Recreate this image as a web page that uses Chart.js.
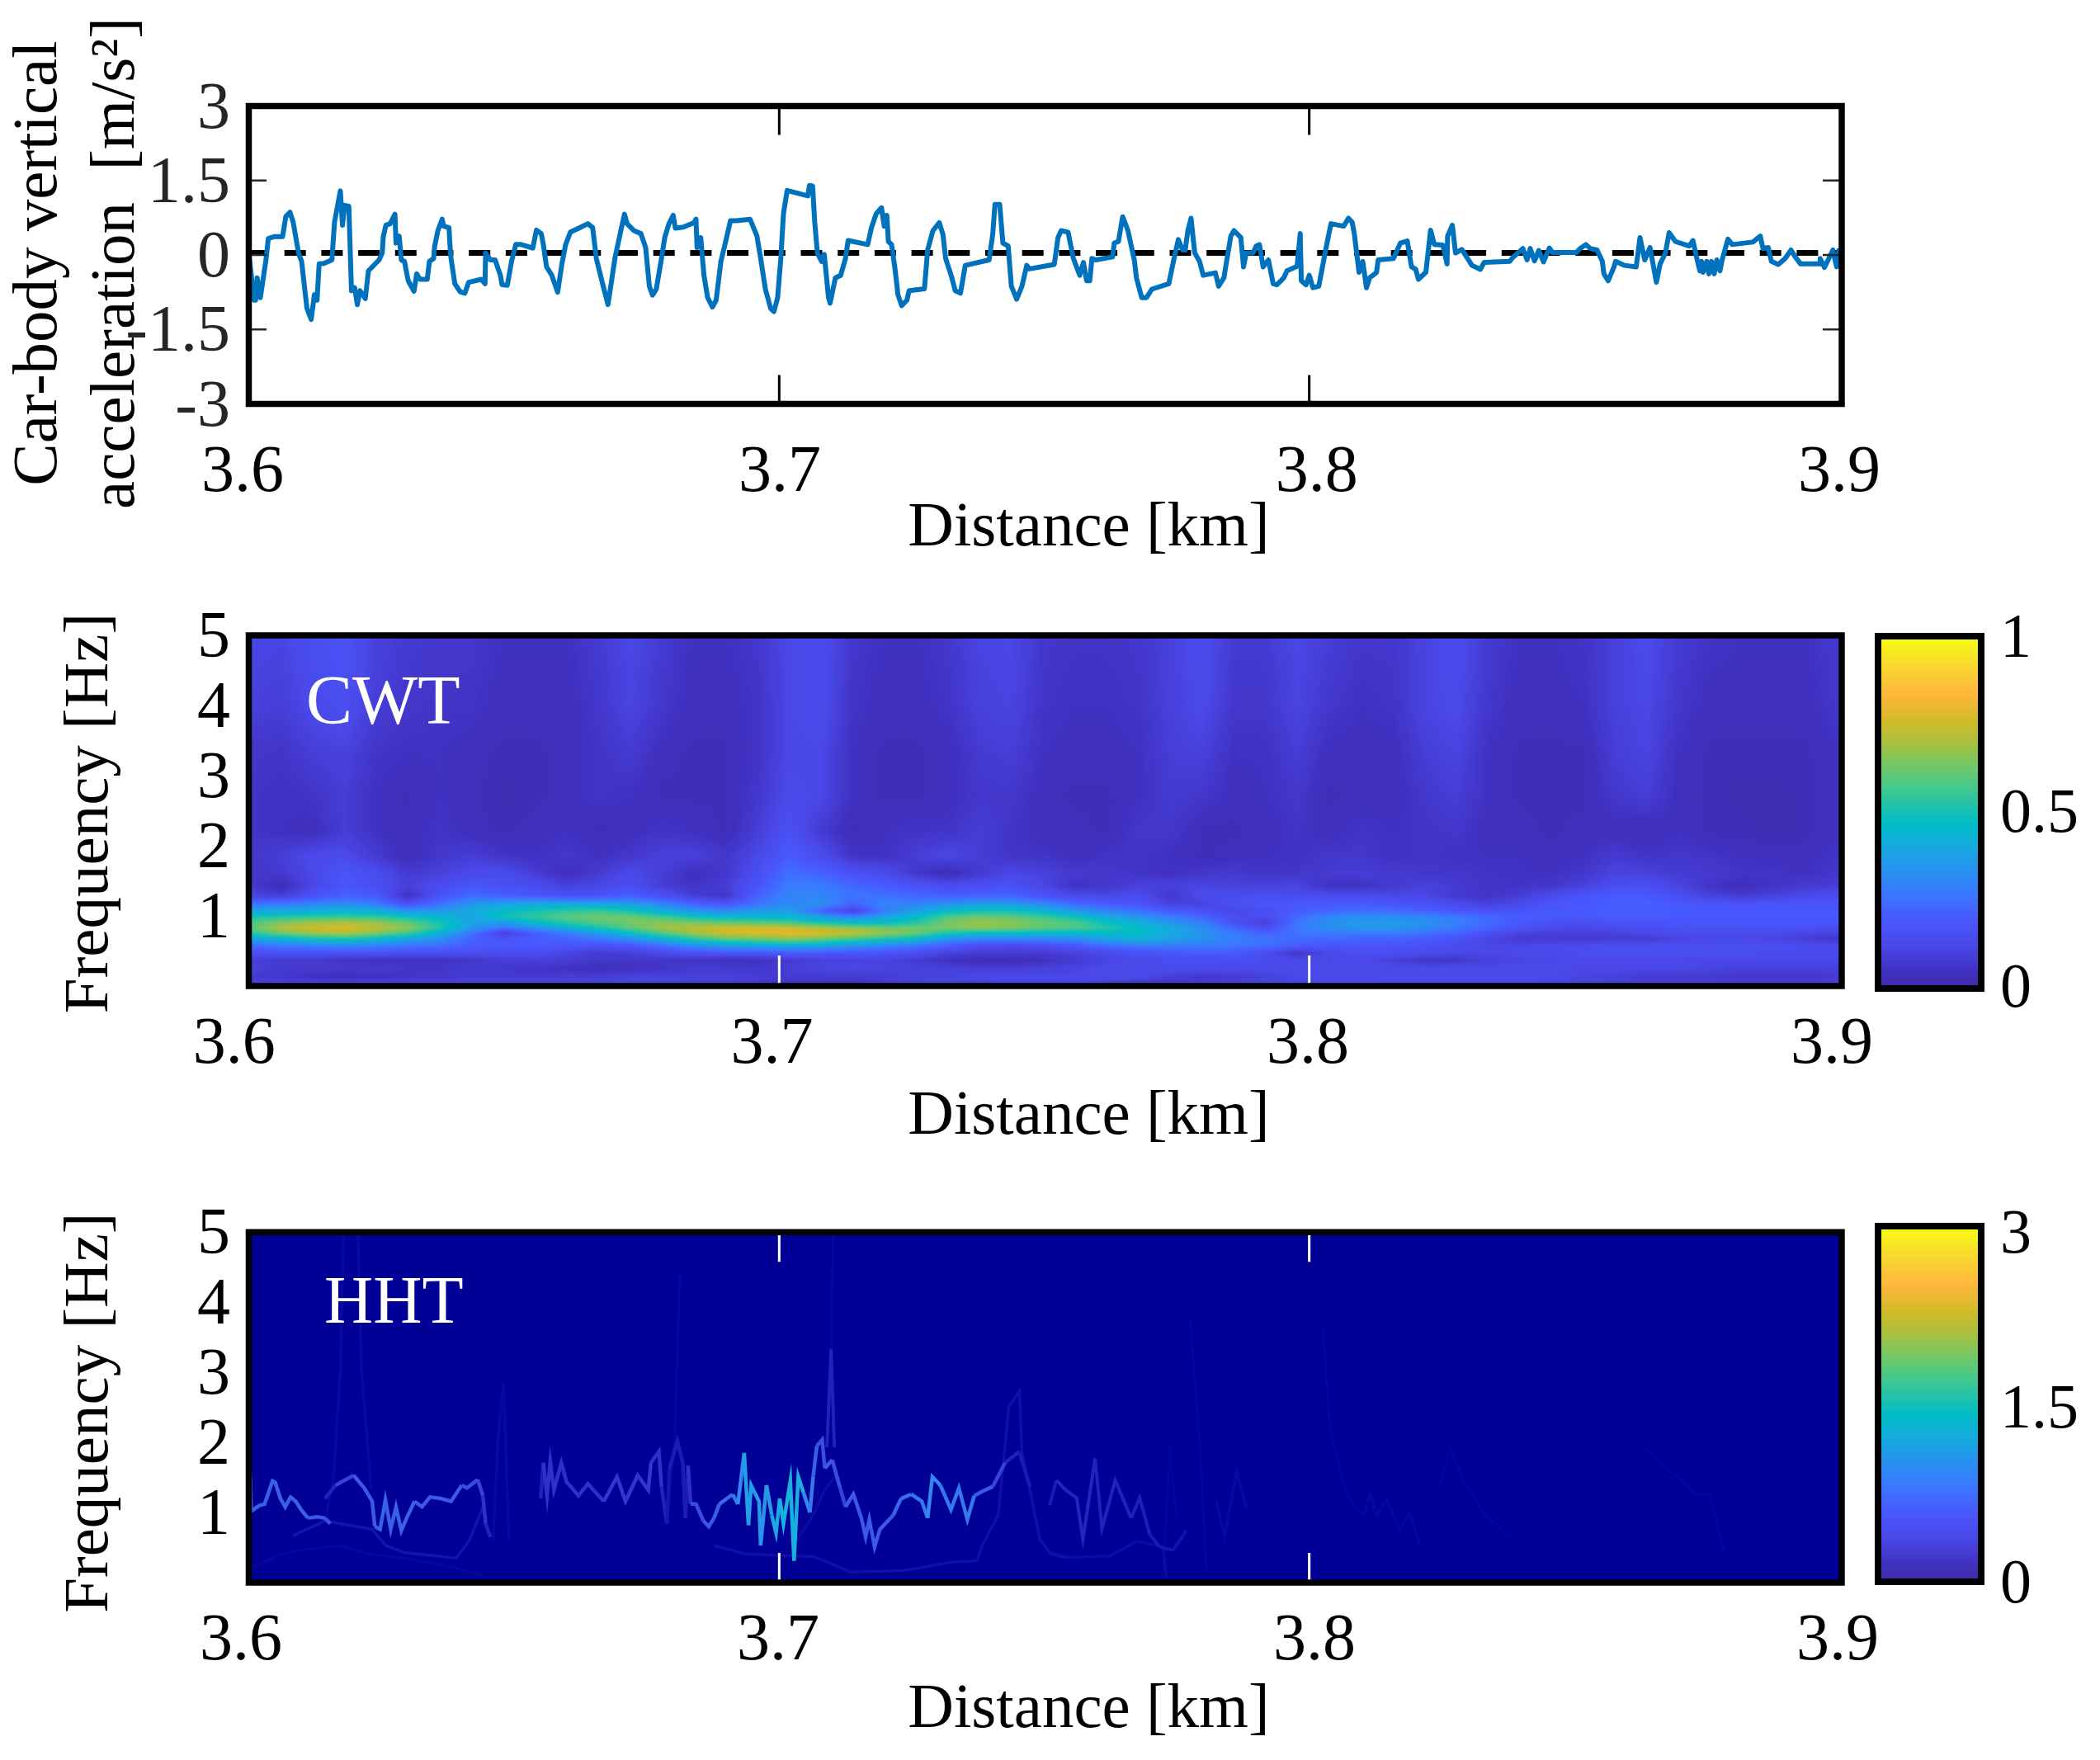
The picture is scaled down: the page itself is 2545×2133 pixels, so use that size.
<!DOCTYPE html>
<html><head><meta charset="utf-8"><title>Car-body acceleration, CWT and HHT</title>
<style>html,body{margin:0;padding:0;background:#fff;width:2545px;height:2133px;overflow:hidden}canvas{position:absolute;display:block}</style>
<script src="https://cdn.jsdelivr.net/npm/chart.js@4/dist/chart.umd.min.js"></script>
</head><body>
<canvas id="c1" width="2340" height="700" style="left:0;top:0"></canvas>
<canvas id="c2" width="2340" height="740" style="left:0;top:700px"></canvas>
<canvas id="c3" width="2340" height="713" style="left:0;top:1420px"></canvas>
<canvas id="b2" width="315" height="600" style="left:2230px;top:680px"></canvas>
<canvas id="b3" width="315" height="700" style="left:2230px;top:1400px"></canvas>
<script>
const xTickValues=[3.6,3.7,3.8,3.9];
const accelTicks=[-3,-1.5,0,1.5,3];
const freqTicks=[1,2,3,4,5];
const zeroLineKm=[3.6,3.9];
const zeroLineVal=[0.04,0.04];
const accelKm=[3.6,3.6004,3.6009,3.6012,3.6015,3.6021,3.6025,3.6032,3.6036,3.6048,3.6063,3.6069,3.6077,3.6083,3.6093,3.6099,3.6103,3.6109,3.6117,3.6123,3.6128,3.6132,3.6141,3.6156,3.6161,3.6172,3.6176,3.618,3.6188,3.6193,3.6199,3.6204,3.6209,3.6219,3.6225,3.6245,3.6251,3.6253,3.6258,3.6266,3.6275,3.6277,3.6283,3.6287,3.6293,3.63,3.6311,3.6316,3.6322,3.6336,3.634,3.6348,3.635,3.6356,3.6364,3.6367,3.6377,3.638,3.6388,3.6398,3.6407,3.6414,3.6438,3.6445,3.6446,3.6455,3.6464,3.6474,3.6477,3.6487,3.6495,3.6503,3.6513,3.6535,3.6542,3.6551,3.6555,3.6561,3.6571,3.6582,3.659,3.6597,3.6606,3.6622,3.6639,3.6648,3.6655,3.6668,3.6677,3.669,3.67,3.6708,3.6713,3.6726,3.6739,3.6748,3.6755,3.6761,3.6768,3.6777,3.6784,3.6792,3.68,3.6804,3.6819,3.6839,3.6843,3.6845,3.6852,3.6858,3.6865,3.6874,3.6881,3.689,3.6897,3.6908,3.6919,3.6945,3.6958,3.6965,3.6974,3.6984,3.699,3.6997,3.7003,3.7008,
3.7015,3.7054,3.7057,3.7063,3.7067,3.7072,3.708,3.7085,3.7093,3.7096,3.7106,3.7116,3.7125,3.713,3.7167,3.7174,3.7183,3.7193,3.7198,3.7203,3.7206,3.7212,3.7219,3.7224,3.7231,3.7241,3.7245,3.7274,3.728,3.729,3.7302,3.7309,3.7314,3.7325,3.7332,3.7342,3.7351,3.7396,3.7403,3.7407,3.7416,3.7422,3.7432,3.7438,3.7448,3.7458,3.7467,3.7472,3.7519,3.7526,3.7532,3.7545,3.7555,3.7567,3.7574,3.758,3.7586,3.759,3.7597,3.7629,3.7632,3.764,3.7648,3.7658,3.767,3.7674,3.7684,3.7693,3.7703,3.7735,3.7745,3.7753,3.7761,3.7766,3.7771,3.7777,3.7784,3.7793,3.78,3.7823,3.7829,3.7839,3.7845,3.7852,3.7858,3.7871,3.7876,3.7881,3.7894,3.79,3.7906,3.7913,3.7923,3.7932,3.7939,3.7952,3.7958,3.7977,3.7983,3.7985,3.7994,3.8,
3.8007,3.8018,3.8023,3.8033,3.8041,3.8065,3.8074,3.8081,3.8085,3.8094,3.8101,3.8108,3.8114,3.8127,3.813,3.8159,3.8172,3.8185,3.8193,3.8201,3.8206,3.822,3.8229,3.8236,3.8252,3.826,3.8261,3.827,3.8276,3.8288,3.8307,3.8323,3.833,3.8378,3.8385,3.8403,3.8411,3.8417,3.8425,3.8433,3.8442,3.8453,3.8459,3.8504,3.8511,3.8522,3.853,3.8543,3.8553,3.8556,3.8564,3.8575,3.8578,3.8595,3.8617,3.8624,3.8633,3.8643,3.8655,3.8662,3.8672,3.8679,3.8691,3.8717,3.8724,3.873,3.8737,3.874,3.8743,3.875,3.8754,3.8759,3.8764,3.8769,3.8775,3.8779,3.879,3.8798,3.8837,3.8851,3.8856,3.8866,3.8872,3.8885,3.8898,3.8909,3.8917,3.8927,3.8963,3.8964,3.8972,3.8979,3.8988,3.8995,3.9];
const accelVal=[-0.04,-0.41,-0.91,-0.91,-0.46,-0.86,-0.58,-0.07,0.33,0.37,0.37,0.77,0.86,0.66,0.04,-0.13,-0.52,-1.08,-1.3,-0.8,-0.91,-0.18,-0.17,-0.1,0.66,1.29,0.6,1,0.98,-0.72,-0.66,-1,-0.72,-0.88,-0.32,-0.1,0.04,0.37,0.6,0.63,0.82,0.24,0.38,-0.1,-0.13,-0.52,-0.73,-0.38,-0.49,-0.49,-0.13,-0.07,0.18,0.49,0.72,0.58,0.55,-0.01,-0.58,-0.74,-0.77,-0.55,-0.49,-0.58,0.04,-0.1,-0.1,-0.41,-0.6,-0.61,-0.13,0.21,0.21,0.14,0.5,0.43,0.21,-0.24,-0.41,-0.75,-0.18,0.21,0.46,0.54,0.63,0.55,-0.07,-0.63,-1,-0.07,0.43,0.82,0.63,0.49,0.43,0.15,-0.63,-0.81,-0.69,-0.13,0.35,0.63,0.8,0.54,0.56,0.65,0.72,0.15,0.35,-0.41,-0.86,-1.05,-0.91,-0.13,0.18,0.69,0.69,0.72,0.38,-0.07,-0.69,-1.08,-1.14,-0.86,-0.07,0.83,
1.3,1.19,1.4,1.39,0.66,0.04,-0.13,0.01,-0.86,-0.97,-0.46,-0.41,-0.07,0.29,0.21,0.55,0.83,0.95,0.58,0.8,0.27,0.21,-0.32,-0.8,-1.02,-0.91,-0.72,-0.68,0.1,0.49,0.65,0.41,-0.07,-0.43,-0.72,-0.77,-0.21,-0.1,0.43,1.02,1.02,0.24,0.18,-0.63,-0.89,-0.63,-0.21,-0.28,-0.19,0.35,0.49,0.46,-0.07,-0.41,-0.15,-0.52,-0.52,-0.07,-0.1,-0.04,0.24,0.27,0.77,0.49,-0.1,-0.46,-0.86,-0.86,-0.69,-0.58,-0.07,0.31,0.1,0.1,0.49,0.74,0.04,-0.13,-0.41,-0.36,-0.63,-0.46,-0.07,0.38,0.49,0.35,-0.24,0.04,0.04,0.18,0.21,-0.24,-0.1,-0.58,-0.6,-0.46,-0.32,-0.23,0.43,-0.52,-0.6,-0.41,
-0.66,-0.63,-0.35,0.21,0.63,0.58,0.74,0.66,0.43,-0.35,-0.13,-0.66,-0.46,-0.35,-0.1,-0.07,0.24,0.28,-0.24,-0.29,-0.49,-0.35,0.5,0.21,0.2,-0.18,0.38,0.6,0.04,0.11,-0.21,-0.29,-0.15,-0.13,-0.04,0.13,-0.1,0.13,-0.12,0.09,-0.14,0.14,0.05,0.05,0.13,0.21,0.13,0.1,-0.13,-0.38,-0.52,-0.24,-0.13,-0.21,-0.24,0.35,-0.1,0.15,-0.55,-0.18,0.04,0.45,0.27,0.18,0.29,-0.01,-0.32,-0.13,-0.35,-0.13,-0.38,-0.13,-0.38,-0.1,-0.32,-0.1,0.32,0.21,0.26,0.38,0.13,0.15,-0.13,-0.19,-0.07,0.1,-0.04,-0.18,-0.18,-0.07,-0.25,-0.1,0.1,-0.24,0.13];

/* CWT magnitude, percent of full scale: one list per frequency row, 51 columns */
const cwtKm=[3.6,3.606,3.612,3.618,3.624,3.63,3.636,3.642,3.648,3.654,3.66,3.666,3.672,3.678,3.684,3.69,3.696,3.702,3.708,3.714,3.72,3.726,3.732,3.738,3.744,3.75,3.756,3.762,3.768,3.774,3.78,3.786,3.792,3.798,3.804,3.81,3.816,3.822,3.828,3.834,3.84,3.846,3.852,3.858,3.864,3.87,3.876,3.882,3.888,3.894,3.9];
const cwtHz=[5,4,3.3,2.7,2.2,1.85,1.6,1.42,1.28,1.16,1.06,0.98,0.9,0.82,0.74,0.66,0.56,0.46,0.36,0.24,0.12,0.03];
const cwt500=[12,11,15,17,10,8,7,7,5,5,5,8,12,8,5,5,7,12,14,7,5,5,7,11,12,7,6,6,7,10,14,8,8,12,9,7,7,11,14,8,5,5,6,10,13,8,6,5,5,5,8];
const cwt400=[10,9,13,15,9,7,6,6,4,4,4,7,11,7,4,4,6,12,14,6,4,4,6,10,11,6,5,5,6,10,13,7,7,11,7,5,6,11,13,7,4,4,5,10,12,7,4,4,4,4,7];
const cwt330=[7,6,9,10,6,5,5,4,3,3,4,6,8,4,3,3,6,12,12,5,3,3,4,8,9,5,4,4,5,9,10,5,5,9,4,4,4,9,11,5,3,3,3,9,11,5,3,3,3,3,5];
const cwt270=[6,5,6,9,5,3,5,4,2,3,4,6,5,3,3,3,7,13,12,5,3,3,4,7,7,4,3,3,5,8,7,4,5,7,3,4,4,7,9,5,3,3,3,7,9,4,3,2,2,3,5];
const cwt220=[6,5,4,9,5,4,6,4,3,4,5,3,4,6,5,3,9,16,8,3,5,6,6,9,6,4,4,3,7,7,3,3,4,6,4,6,5,6,7,4,4,3,4,4,3,5,3,3,2,3,5];
const cwt185=[7,9,13,13,8,3,7,9,6,5,7,5,7,10,10,7,12,20,14,6,5,9,12,9,6,6,4,6,6,5,3,4,5,5,7,7,5,6,5,5,5,4,5,8,6,7,6,5,4,4,6];
const cwt160=[6,8,12,18,14,8,10,13,14,9,4,8,13,9,4,7,15,25,22,16,14,7,3,8,12,10,8,7,6,5,7,8,6,7,8,9,8,7,7,6,5,5,7,11,10,8,8,6,6,5,7];
const cwt142=[8,3,12,18,15,10,14,18,16,14,10,12,15,9,6,9,18,28,28,23,20,17,14,15,16,12,5,7,10,10,11,10,10,11,5,5,8,10,8,6,6,7,10,15,15,11,6,4,6,8,9];
const cwt128=[11,9,16,22,19,5,17,24,21,19,16,17,21,15,9,6,22,30,30,26,25,23,21,22,22,17,13,12,14,7,14,14,15,14,14,14,12,12,8,6,9,14,17,20,19,15,10,8,10,13,14];
const cwt116=[26,28,30,32,28,16,25,35,38,40,40,40,37,30,22,18,26,32,33,22,30,30,33,37,36,31,24,20,18,10,10,16,18,19,19,20,18,16,13,10,13,18,19,21,21,19,17,17,18,18,18];
const cwt106=[40,40,42,44,42,35,36,40,46,50,54,55,50,42,35,32,36,38,22,10,28,38,46,50,50,44,36,30,26,20,17,12,15,20,23,25,24,22,19,17,17,19,19,21,21,20,19,19,19,19,19];
const cwt098=[50,52,54,55,54,48,44,38,50,55,60,63,62,56,48,45,45,44,36,30,38,46,58,62,60,55,48,40,34,28,22,15,14,24,30,33,32,30,27,23,20,20,20,21,20,20,19,19,19,20,20];
const cwt090=[58,64,68,70,67,60,50,38,36,46,54,60,64,66,63,60,58,56,50,44,46,52,64,68,66,62,58,48,42,35,28,16,9,26,33,36,36,34,29,24,19,16,15,16,17,18,18,18,18,18,18];
const cwt082=[60,70,75,77,72,66,52,36,26,34,42,50,60,68,72,75,76,75,70,66,62,62,64,66,64,60,58,52,47,40,33,22,14,27,33,35,35,32,27,22,17,13,12,14,15,16,17,17,17,16,15];
const cwt074=[52,62,68,70,64,55,42,26,8,20,28,36,46,58,68,75,77,78,77,73,68,62,50,46,46,44,44,46,46,40,34,28,22,26,28,28,28,25,22,15,10,9,10,10,12,14,14,14,13,11,10];
const cwt066=[38,42,48,50,45,38,33,22,18,20,22,26,32,42,52,60,62,66,62,56,50,44,34,30,30,30,32,38,42,38,33,29,26,24,23,22,22,20,17,11,8,8,8,8,8,11,12,12,11,9,7];
const cwt056=[24,27,29,30,29,26,24,20,19,20,18,16,18,24,32,36,38,40,38,34,30,26,20,14,13,14,18,24,28,28,28,26,24,20,18,18,17,16,14,12,12,13,14,15,15,15,15,15,15,14,13];
const cwt046=[15,16,16,16,16,15,15,15,14,14,11,8,9,13,16,17,18,19,19,18,17,15,10,8,8,8,10,13,16,18,20,20,14,6,13,15,15,14,12,12,13,14,15,15,15,15,15,15,14,14,14];
const cwt036=[10,8,8,6,5,5,5,7,9,10,9,7,7,7,6,5,5,8,10,11,11,8,5,3,3,5,8,11,13,14,14,15,14,13,12,13,10,6,7,10,11,12,12,12,12,12,12,12,12,12,12];
const cwt024=[10,8,8,8,8,7,7,8,7,6,5,4,5,6,8,8,7,9,11,12,11,10,10,9,9,10,11,13,13,14,14,13,13,13,13,13,13,13,13,13,13,13,12,12,12,12,11,10,10,10,10];
const cwt012=[8,7,5,4,5,6,7,8,8,8,9,9,10,10,10,10,9,8,8,8,9,10,11,12,12,12,12,13,13,9,7,8,10,12,12,12,13,13,13,13,13,12,11,10,8,8,8,7,7,7,8];
const cwt003=[10,10,10,10,11,11,11,11,11,11,11,11,11,11,10,9,8,6,6,6,8,10,10,10,11,11,11,9,7,7,8,10,11,11,12,12,12,12,12,12,12,11,11,10,9,9,9,9,9,9,10];
const cwtRows=[cwt500,cwt400,cwt330,cwt270,cwt220,cwt185,cwt160,cwt142,cwt128,cwt116,cwt106,cwt098,cwt090,cwt082,cwt074,cwt066,cwt056,cwt046,cwt036,cwt024,cwt012,cwt003];

/* colour bar */
const cbPos=[0,0.048,0.122,0.196,0.27,0.334,0.397,0.466,0.566,0.63,0.695,0.758,0.833,0.917,1];
const cbColors=['#3f2ba8','#4030c0','#4a48e8','#4858ff','#3a78ff','#2890f0','#18a8e0','#00bcc8','#40c890','#70c868','#a8c040','#d0bb28','#ffb63c','#f8d830','#f8ff10'];
const cb2Ticks=[0,0.5,1];
const cb3Ticks=[0,1.5,3];

/* HHT instantaneous-frequency ridges: km, Hz and relative amplitude */
const hhtAKm=[3.6002,3.6004,3.6019,3.6029,3.6044,3.6049,3.6059,3.6068,3.6078,3.6088,3.6098,3.6111,3.6128,3.6143,3.6153];
const hhtAHz=[1.55,1.02,1.10,1.12,1.45,1.43,1.20,1.08,1.22,1.16,1.04,0.92,0.94,0.92,0.84];
const hhtAAmp=[0.5,0.55,0.55,0.55,0.55,0.55,0.55,0.55,0.55,0.55,0.55,0.5,0.5,0.45,0.3];
const hhtBKm=[3.6143,3.6163,3.6197,3.6217,3.6232,3.6237,3.6247,3.6257,3.6267,3.6277,3.6287,3.6297,3.6312,3.6326,3.6341,3.6361,3.6381,3.6401,3.6411,3.6431,3.6441,3.6446,3.6455];
const hhtBHz=[1.20,1.39,1.53,1.35,1.16,0.80,0.76,1.18,0.76,1.08,0.74,0.92,1.16,1.08,1.22,1.20,1.16,1.39,1.35,1.47,1.24,0.84,0.65];
const hhtBAmp=[0.2,0.4,0.5,0.5,0.5,0.55,0.55,0.55,0.55,0.55,0.55,0.55,0.5,0.5,0.5,0.5,0.5,0.45,0.45,0.4,0.3,0.2,0.1];
const hhtCKm=[3.655,3.6555,3.6562,3.6568,3.6575,3.6589,3.6599,3.6609,3.6621,3.6639,3.6669,3.6694,3.671,3.6733,3.6753,3.6758,3.6773,3.6778,3.6788,3.6793,3.6808,3.6818,3.6823,3.6828,3.6833,3.6843,3.6857,3.6867,3.6877,3.6887,3.6912,3.6922,3.6934,3.6942,3.6947,3.6962,3.6965,3.6976,3.6986,3.6994,3.7001,3.7008,3.7021,3.7028,3.7036,3.7046,3.7058,3.7064,3.7071,3.7081,3.7086,3.71,3.7115,3.7125,3.714,3.7155,3.7163,3.717,3.718,3.719,3.7215,3.723,3.7249,3.7269,3.728,3.7289,3.7304,3.7324,3.7339,3.7355,3.7368,3.7383,3.7403,3.7426,3.7453,3.7473];
const hhtCHz=[1.20,1.71,1.24,1.73,1.32,1.71,1.43,1.35,1.24,1.41,1.16,1.51,1.16,1.53,1.32,1.71,1.87,1.36,0.84,1.63,2.02,1.71,0.92,1.67,1.12,1.12,0.88,0.80,0.92,1.12,1.26,1.12,1.85,0.82,1.39,1.16,0.53,1.39,0.96,0.71,1.20,0.84,1.45,0.31,1.51,1.28,1.00,1.51,1.95,2.04,1.63,1.75,1.35,1.08,1.26,0.92,0.65,0.90,0.51,0.76,0.96,1.20,1.26,1.16,0.92,1.51,1.39,1.04,1.35,0.90,1.24,1.30,1.37,1.71,1.87,1.36];
const hhtCAmp=[0.2,0.3,0.3,0.3,0.3,0.3,0.3,0.3,0.3,0.3,0.33,0.33,0.33,0.33,0.33,0.3,0.3,0.2,0.12,0.16,0.16,0.16,0.16,0.3,0.45,0.45,0.5,0.5,0.55,0.6,0.7,0.8,1.05,1,1,1,0.9,1,1.1,1.1,1.2,1.2,1.25,1.2,1.2,0.8,0.7,0.55,0.45,0.45,0.5,0.45,0.4,0.5,0.5,0.5,0.5,0.5,0.5,0.5,0.6,0.65,0.7,0.7,0.8,0.8,0.7,0.7,0.7,0.7,0.5,0.5,0.4,0.2,0.14,0.1];
const hhtDKm=[3.751,3.7523,3.7542,3.7561,3.7573,3.7596,3.7609,3.7634,3.7664,3.768,3.7699,3.7718,3.7743,3.7768];
const hhtDHz=[1.10,1.46,1.31,1.21,0.62,1.77,0.77,1.46,0.92,1.21,0.69,0.51,0.46,0.74];
const hhtDAmp=[0.15,0.22,0.22,0.22,0.22,0.2,0.2,0.2,0.18,0.18,0.15,0.12,0.1,0.08];
const hhtEKm=[3.7825,3.784,3.7863,3.7882];
const hhtEHz=[1.16,0.67,1.59,1.05];
const hhtFKm=[3.8102,3.8115,3.8127,3.8146,3.8171,3.819,3.8209];
const hhtFHz=[0.95,1.28,0.95,1.18,0.74,1.00,0.51];
const arc1Km=[3.6004,3.6054,3.6103,3.6173,3.6222,3.6292,3.6391,3.6441];
const arc1Hz=[0.21,0.39,0.47,0.53,0.41,0.35,0.21,0.10];
const arc2Km=[3.6083,3.6143,3.6232,3.6257,3.6292,3.6391,3.6416,3.6441];
const arc2Hz=[0.67,0.88,0.76,0.53,0.43,0.35,0.61,1.08];
const spike1Km=[3.6143,3.6158,3.6172,3.6178,3.6205,3.6212,3.623];
const spike1Hz=[0.92,1.39,3.03,5,5,3.03,1.33];
const spike2Km=[3.646,3.647,3.648,3.6485,3.649];
const spike2Hz=[0.61,2.10,2.85,1.71,0.61];
const spike3Km=[3.6788,3.6803,3.6808,3.6812];
const spike3Hz=[0.84,2.10,3.28,4.4];
const spike4Km=[3.709,3.7098,3.7104];
const spike4Hz=[1.93,3.33,1.93];
const spike4bKm=[3.7098,3.7102];
const spike4bHz=[3.33,5];
const bumpKm=[3.7026,3.7061,3.7086,3.7105,3.7125];
const bumpHz=[0.53,0.92,1.32,1.51,1.16];
const arc3Km=[3.6877,3.6936,3.6996,3.7066,3.7135,3.7234,3.7324,3.7373,3.7383,3.7413,3.7423,3.7433,3.7453,3.7458,3.7473,3.7492,3.7512,3.7542];
const arc3Hz=[0.53,0.41,0.39,0.37,0.15,0.17,0.29,0.31,0.53,0.96,1.71,2.50,2.73,1.87,1.32,0.61,0.41,0.35];
const arc4Km=[3.751,3.7548,3.7624,3.7674,3.7724,3.7731];
const arc4Hz=[0.44,0.36,0.38,0.59,0.51,0.08];
const spike5Km=[3.7724,3.7737,3.775];
const spike5Hz=[0.08,1.93,0.90];
const spike6Km=[3.7775,3.7794,3.7806];
const spike6Hz=[3.78,1.93,0.18];
const spike7Km=[3.8026,3.8039,3.807,3.8102];
const spike7Hz=[3.68,2.18,1.26,0.95];
const tail1Km=[3.8247,3.8266,3.8291,3.8329,3.8379];
const tail1Hz=[1.41,1.93,1.46,1.00,0.64];
const spike8Km=[3.831,3.8316,3.8322];
const spike8Hz=[1.93,3.47,4.81];
const tail2Km=[3.8631,3.8731,3.8756,3.8782];
const tail2Hz=[1.93,1.26,1.26,0.44];
const spike9Km=[3.8807,3.8826];
const spike9Hz=[0.64,2.24];
const ampFaint=[0.012,0.025,0.035,0.045,0.06,0.08,0.1,0.2];
const lineAmpAt=[0,0.1,0.3,0.5,0.8,1.2];
const lineColorAt=['#000096','#1414ac','#3030c8','#3c58e4','#3088f0','#18b0dc'];

const SERIF='"Liberation Serif"';
const hex=h=>[parseInt(h.slice(1,3),16),parseInt(h.slice(3,5),16),parseInt(h.slice(5,7),16)];
function ramp(posArr,colArr,t){
  if(t<=posArr[0])return hex(colArr[0]);
  for(let i=1;i<posArr.length;i++){ if(t<=posArr[i]){
    const f=(t-posArr[i-1])/(posArr[i]-posArr[i-1]),a=hex(colArr[i-1]),b=hex(colArr[i]);
    return [0,1,2].map(k=>a[k]+(b[k]-a[k])*f);
  }}
  return hex(colArr[colArr.length-1]);
}
const hhtColor=a=>{const c=ramp(lineAmpAt,lineColorAt,a);return `rgb(${c.map(Math.round).join(',')})`;};
const zip=(xs,ys)=>xs.map((x,i)=>({x,y:ys[i]}));

const LUT=[];for(let i=0;i<=255;i++)LUT.push(ramp(cbPos,cbColors,i/255));
function paintHeat(chart){
  const {ctx,chartArea:a,scales:{x,y}}=chart,S=3;
  const w=Math.ceil((a.right-a.left)/S),h=Math.ceil((a.bottom-a.top)/S);
  const off=document.createElement('canvas');off.width=w;off.height=h;
  const oc=off.getContext('2d'),img=oc.createImageData(w,h);
  const step=cwtKm[1]-cwtKm[0];
  for(let py=0;py<h;py++){
    const f=y.getValueForPixel(a.top+(py+.5)*S);
    let r=0;while(r<cwtHz.length-2&&f<cwtHz[r+1])r++;
    const tr=Math.min(1,Math.max(0,(cwtHz[r]-f)/(cwtHz[r]-cwtHz[r+1])));
    for(let px=0;px<w;px++){
      const km=x.getValueForPixel(a.left+(px+.5)*S);
      const cf=Math.min(cwtKm.length-1.001,Math.max(0,(km-cwtKm[0])/step));
      const c=Math.floor(cf),tc=cf-c;
      const v=((cwtRows[r][c]*(1-tc)+cwtRows[r][c+1]*tc)*(1-tr)+(cwtRows[r+1][c]*(1-tc)+cwtRows[r+1][c+1]*tc)*tr)/100;
      const col=LUT[Math.round(Math.min(1,Math.max(0,v))*255)],o=(py*w+px)*4;
      img.data[o]=col[0];img.data[o+1]=col[1];img.data[o+2]=col[2];img.data[o+3]=255;
    }
  }
  oc.putImageData(img,0,0);
  ctx.save();ctx.imageSmoothingEnabled=true;ctx.imageSmoothingQuality='high';
  ctx.beginPath();ctx.rect(a.left,a.top,a.right-a.left,a.bottom-a.top);ctx.clip();
  ctx.drawImage(off,a.left,a.top,a.right-a.left,a.bottom-a.top);ctx.restore();
}
function panelPlugin(o){return{id:'panel'+o.key,
  beforeDraw(chart){
    const sx=chart.scales.x,sy=chart.scales.y;
    sx.getLabelItems().forEach((it,i)=>{it.options.translation[0]+=o.xLabelShift[i];});
    sy.getLabelItems().forEach(it=>{it.options.translation[1]+=5;});
    const shift=(s,dx,dy)=>{const orig=s.drawTitle.bind(s);s.drawTitle=function(){const c=s.ctx;c.save();c.translate(dx,dy);orig();c.restore();};};
    shift(sx,o.xTitleShift[0],o.xTitleShift[1]);shift(sy,o.yTitleShift[0],o.yTitleShift[1]);
  },
  beforeDatasetsDraw(chart){
    const a=chart.chartArea,c=chart.ctx;
    if(o.bg){c.save();c.fillStyle=o.bg;c.fillRect(a.left,a.top,a.right-a.left,a.bottom-a.top);c.restore();}
    if(o.heat)paintHeat(chart);
  },
  afterDatasetsDraw(chart){
    const a=chart.chartArea,c=chart.ctx,sx=chart.scales.x,sy=chart.scales.y;
    c.save();
    c.strokeStyle=o.tickColor;c.lineWidth=3;
    [3.7,3.8].forEach(v=>{const p=sx.getPixelForValue(v);c.beginPath();
      if(o.ticksBottom){c.moveTo(p,a.bottom);c.lineTo(p,a.bottom-o.tickLen);}
      if(o.ticksTop){c.moveTo(p,a.top);c.lineTo(p,a.top+o.tickLen);}
      c.stroke();});
    if(o.yTicks){c.strokeStyle='#262626';c.lineWidth=2.5;o.yTicks.forEach(v=>{const p=sy.getPixelForValue(v);c.beginPath();
      c.moveTo(a.left,p);c.lineTo(a.left+21,p);c.moveTo(a.right+1,p);c.lineTo(a.right-20,p);c.stroke();});}
    c.strokeStyle='#000';c.lineWidth=7.5;
    c.strokeRect(a.left-.5,a.top,a.right-a.left+3.5,a.bottom-a.top);
    if(o.label){c.fillStyle='#fff';c.font=o.label.size+'px '+SERIF;c.textBaseline='alphabetic';c.fillText(o.label.text,o.label.x,o.label.y);}
    c.restore();
  }};}
function axisX(tickPad,h,titlePad){return{type:'linear',min:3.6,max:3.9,
  afterBuildTicks:s=>{s.ticks=xTickValues.map(v=>({value:v}));},
  afterFit:s=>{s.height=h;},
  grid:{display:false},border:{display:false},
  ticks:{color:'#000',maxRotation:0,autoSkip:false,padding:tickPad,font:{family:SERIF,size:80,lineHeight:1.2},callback:v=>Number(v).toFixed(1)},
  title:{display:true,text:'Distance [km]',color:'#000',font:{family:SERIF,size:77,lineHeight:1.2},padding:{top:0,bottom:titlePad}}};}
function axisY(min,max,ticks,title,color,lh){return{type:'linear',min,max,
  afterBuildTicks:s=>{s.ticks=ticks.map(v=>({value:v}));},
  afterFit:s=>{s.width=302;},
  grid:{display:false},border:{display:false},
  ticks:{color,padding:15,autoSkip:false,font:{family:SERIF,size:80,lineHeight:1.2},callback:v=>String(v)},
  title:{display:true,text:title,color:'#000',font:{family:SERIF,size:77,lineHeight:lh},padding:0}};}
const base=pad=>({responsive:false,animation:false,devicePixelRatio:1,layout:{padding:pad},plugins:{legend:{display:false},tooltip:{enabled:false}}});

new Chart(document.getElementById('c1'),{type:'scatter',
  data:{datasets:[
    {label:'Car-body vertical acceleration',data:zip(accelKm,accelVal),showLine:true,borderColor:'#0072bd',borderWidth:6,pointRadius:0,tension:0,order:0,borderJoinStyle:'round'},
    {label:'Zero',data:zip(zeroLineKm,zeroLineVal),showLine:true,borderColor:'#000',borderWidth:7,borderDash:[26,18.7],borderDashOffset:2,pointRadius:0,order:1}]},
  options:{...base({left:0,right:111,top:128.5,bottom:0}),
    scales:{x:axisX(28.6,210.5,13.4),y:axisY(-3,3,accelTicks,['Car-body vertical','acceleration  [m/s²]'],'#262626',1.22)}},
  plugins:[panelPlugin({key:1,xLabelShift:[-8,0.7,9,0],xTitleShift:[54,0],yTitleShift:[1,10],tickColor:'#000',ticksTop:true,ticksBottom:true,tickLen:35,yTicks:[-1.5,0,1.5]})]});

const cwtCells=[];cwtRows.forEach((row,r)=>row.forEach((v,c)=>cwtCells.push({x:cwtKm[c],y:cwtHz[r],v})));
new Chart(document.getElementById('c2'),{type:'scatter',
  data:{datasets:[{label:'CWT',data:cwtCells,pointRadius:0,showLine:false}]},
  options:{...base({left:0,right:111,top:70,bottom:0}),
    scales:{x:axisX(16,245,40.4),y:axisY(0,5,freqTicks,'Frequency [Hz]','#000',1.2)}},
  plugins:[panelPlugin({key:2,heat:true,xLabelShift:[-18.3,-8.8,-1.7,-9],xTitleShift:[54,0],yTitleShift:[64,3],tickColor:'#fff',ticksBottom:true,tickLen:37,label:{text:'CWT',size:84,x:371,y:177}})]});

const ln=(label,km,hz,amp,order,width)=>({label,data:zip(km,hz),showLine:true,pointRadius:0,tension:0,order,borderWidth:width,
  borderColor:hhtColor(Array.isArray(amp)?amp[0]:amp),
  segment:Array.isArray(amp)?{borderColor:c=>hhtColor(amp[c.p0DataIndex])}:undefined});
new Chart(document.getElementById('c3'),{type:'scatter',
  data:{datasets:[
    ln('HHT A',hhtAKm,hhtAHz,hhtAAmp,0,4.5),ln('HHT B',hhtBKm,hhtBHz,hhtBAmp,0,4.5),ln('HHT C',hhtCKm,hhtCHz,hhtCAmp,0,4.5),
    ln('HHT D',hhtDKm,hhtDHz,hhtDAmp,1,4),ln('HHT E',hhtEKm,hhtEHz,ampFaint[3],2,3.5),ln('HHT F',hhtFKm,hhtFHz,ampFaint[2],2,3.5),
    ln('Arc 1',arc1Km,arc1Hz,ampFaint[2],3,3.5),ln('Arc 2',arc2Km,arc2Hz,ampFaint[6],3,3.5),ln('Arc 3',arc3Km,arc3Hz,ampFaint[5],3,3.5),ln('Arc 4',arc4Km,arc4Hz,ampFaint[4],3,3.5),
    ln('Spike 1',spike1Km,spike1Hz,ampFaint[3],3,3.5),ln('Spike 2',spike2Km,spike2Hz,ampFaint[3],3,3.5),ln('Spike 3',spike3Km,spike3Hz,ampFaint[2],3,3.5),
    ln('Spike 4',spike4Km,spike4Hz,ampFaint[7],2,4),ln('Spike 4b',spike4bKm,spike4bHz,ampFaint[2],3,3.5),ln('Bump',bumpKm,bumpHz,ampFaint[4],3,3.5),
    ln('Spike 5',spike5Km,spike5Hz,ampFaint[1],3,3),ln('Spike 6',spike6Km,spike6Hz,ampFaint[1],3,3),ln('Spike 7',spike7Km,spike7Hz,ampFaint[1],3,3),
    ln('Tail 1',tail1Km,tail1Hz,ampFaint[1],3,3),ln('Spike 8',spike8Km,spike8Hz,ampFaint[0],3,3),ln('Tail 2',tail2Km,tail2Hz,ampFaint[1],3,3),ln('Spike 9',spike9Km,spike9Hz,ampFaint[0],3,3)]},
  options:{...base({left:0,right:111,top:73.3,bottom:0}),
    scales:{x:axisX(16,215,14.4),y:axisY(0,5,freqTicks,'Frequency [Hz]','#000',1.2)}},
  plugins:[panelPlugin({key:3,bg:'#000096',xLabelShift:[-10,-1.3,6.3,-2],xTitleShift:[54,0],yTitleShift:[64,6.5],tickColor:'#fff',ticksTop:true,ticksBottom:true,tickLen:36,label:{text:'HHT',size:82,x:393,y:183}})]});

function colorBar(id,min,max,ticks,pad){
  const frame={id:'cbFrame'+id,
    beforeDraw(chart){chart.scales.y.getLabelItems().forEach(it=>{it.options.translation[1]+=5;});},
    afterDatasetsDraw(chart){const a=chart.chartArea,c=chart.ctx;c.save();c.strokeStyle='#000';c.lineWidth=8;c.strokeRect(a.left,a.top,a.right-a.left,a.bottom-a.top);c.restore();}};
  new Chart(document.getElementById(id),{type:'bar',
    data:{labels:['scale'],datasets:[{label:'colour scale',data:[[min,max]],barPercentage:1,categoryPercentage:1,borderWidth:0,
      backgroundColor:c=>{const a=c.chart.chartArea;if(!a)return '#4858ff';const g=c.chart.ctx.createLinearGradient(0,a.bottom,0,a.top);cbPos.forEach((p,i)=>g.addColorStop(p,cbColors[i]));return g;}}]},
    options:{...base(pad),
      scales:{x:{display:false},y:{type:'linear',position:'right',min,max,
        afterBuildTicks:s=>{s.ticks=ticks.map(v=>({value:v}));},
        afterFit:s=>{s.width=144;},
        grid:{display:false},border:{display:false},
        ticks:{color:'#000',padding:15,autoSkip:false,font:{family:SERIF,size:76,lineHeight:1.2},callback:v=>String(v)}}}},
    plugins:[frame]});
}
colorBar('b2',-0.007,1,cb2Ticks,{left:46,right:0,top:91,bottom:82});
colorBar('b3',0,3.053,cb3Ticks,{left:46,right:0,top:86,bottom:183});
</script></body></html>
